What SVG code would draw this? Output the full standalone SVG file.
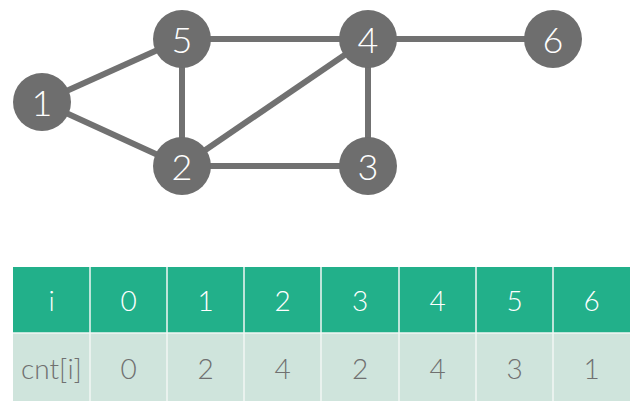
<svg xmlns="http://www.w3.org/2000/svg" width="634" height="410" viewBox="0 0 634 410">
<style>
.edge{stroke:#717171;stroke-width:6;stroke-linecap:butt}
.node circle{fill:#6e6e6e}
.node text{fill:#fff;font-family:Lato,"Liberation Sans",sans-serif;font-weight:300;font-size:36px;text-anchor:middle;dominant-baseline:central}
.hd{fill:#22b08a}
.rw{fill:#cfe4dc}
.grid{stroke:#f2f7f5;stroke-width:1.5}
.ht{fill:#fff;font-family:Lato,"Liberation Sans",sans-serif;font-weight:300;font-size:28px;text-anchor:middle;dominant-baseline:central}
.rt{fill:#707070;font-family:Lato,"Liberation Sans",sans-serif;font-weight:300;font-size:28px;text-anchor:middle;dominant-baseline:central}
</style>
<rect width="634" height="410" fill="#fff"/>
<g id="connectors">
<line class="edge" x1="42" y1="102" x2="182" y2="39"/>
<line class="edge" x1="42" y1="102" x2="182" y2="166"/>
<line class="edge" x1="182" y1="39" x2="182" y2="166"/>
<line class="edge" x1="182" y1="39" x2="368" y2="39"/>
<line class="edge" x1="182" y1="166" x2="368" y2="39"/>
<line class="edge" x1="182" y1="166" x2="368" y2="166"/>
<line class="edge" x1="368" y1="39" x2="368" y2="166"/>
<line class="edge" x1="368" y1="39" x2="553" y2="39"/>
</g>
<g id="node1" class="node"><circle cx="42" cy="102" r="29"/><text x="42" y="102">1</text></g>
<g id="node2" class="node"><circle cx="182" cy="166" r="29"/><text x="182" y="166">2</text></g>
<g id="node3" class="node"><circle cx="368" cy="166" r="29"/><text x="368" y="166">3</text></g>
<g id="node4" class="node"><circle cx="368" cy="39" r="29"/><text x="368" y="39">4</text></g>
<g id="node5" class="node"><circle cx="182" cy="39" r="29"/><text x="182" y="39">5</text></g>
<g id="node6" class="node"><circle cx="553" cy="39" r="29"/><text x="553" y="39">6</text></g>
<g id="table">
<rect class="hd" x="13" y="267" width="617" height="66"/>
<rect class="rw" x="13" y="333" width="617" height="68"/>
<g class="grid">
<line x1="13" y1="333" x2="630" y2="333"/>
<line x1="90" y1="267" x2="90" y2="401"/>
<line x1="167" y1="267" x2="167" y2="401"/>
<line x1="244" y1="267" x2="244" y2="401"/>
<line x1="321" y1="267" x2="321" y2="401"/>
<line x1="399" y1="267" x2="399" y2="401"/>
<line x1="476" y1="267" x2="476" y2="401"/>
<line x1="553" y1="267" x2="553" y2="401"/>
</g>
<text class="ht" x="51.5" y="300">i</text>
<text class="ht" x="128.5" y="300">0</text>
<text class="ht" x="205.5" y="300">1</text>
<text class="ht" x="282.5" y="300">2</text>
<text class="ht" x="360" y="300">3</text>
<text class="ht" x="437.5" y="300">4</text>
<text class="ht" x="514.5" y="300">5</text>
<text class="ht" x="591.5" y="300">6</text>
<text class="rt" x="51.5" y="368">cnt[i]</text>
<text class="rt" x="128.5" y="368">0</text>
<text class="rt" x="205.5" y="368">2</text>
<text class="rt" x="282.5" y="368">4</text>
<text class="rt" x="360" y="368">2</text>
<text class="rt" x="437.5" y="368">4</text>
<text class="rt" x="514.5" y="368">3</text>
<text class="rt" x="591.5" y="368">1</text>
</g>
</svg>
